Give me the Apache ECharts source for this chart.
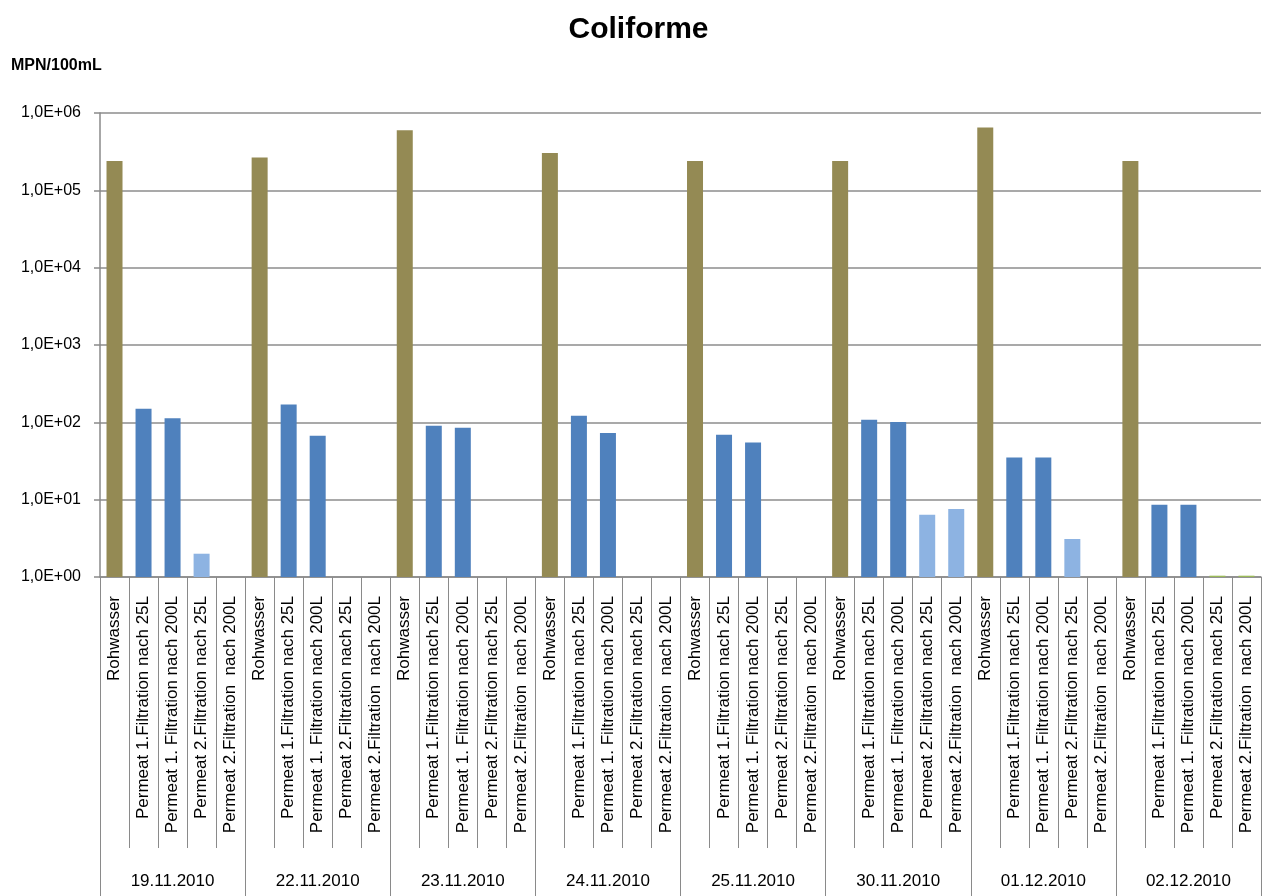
<!DOCTYPE html>
<html>
<head>
<meta charset="utf-8">
<title>Coliforme</title>
<script src="https://cdn.jsdelivr.net/npm/echarts@6/dist/echarts.min.js"></script>
<style>
  html, body { margin: 0; padding: 0; background: #ffffff; }
  #chart { width: 1277px; height: 896px; }
</style>
</head>
<body>
<div id="chart"></div>
<script>
// Sampling dates and the five sampling points measured on each date
const dates = ['19.11.2010', '22.11.2010', '23.11.2010', '24.11.2010',
               '25.11.2010', '30.11.2010', '01.12.2010', '02.12.2010'];
const samplePoints = ['Rohwasser',
                      'Permeat 1.Filtration nach 25L',
                      'Permeat 1. Filtration nach 200L',
                      'Permeat 2.Filtration nach 25L',
                      'Permeat 2.Filtration  nach 200L'];

// Coliforme, MPN/100mL (null = no bar)
const rohwasser      = [240000, 265000, 600000, 305000, 240000, 240000, 650000, 240000];
const permeat1_25L   = [150, 170, 90, 122, 69, 108, 35, 8.6];
const permeat1_200L  = [113, 67, 85, 73, 55, 101, 35, 8.6];
const permeat2_25L   = [2.0, null, null, null, null, 6.4, 3.1, 1.04];
const permeat2_200L  = [null, null, null, null, null, 7.6, null, 1.04];

// Y axis tick values (decades)
const yTicks = [1, 10, 100, 1000, 10000, 100000, 1000000];

const COLOR_RAW = '#948A54';
const COLOR_P1 = '#4F81BD';
const COLOR_P2 = '#8DB3E2';
const COLOR_P2_LOW = '#9BBB59';
const FONT = '"Liberation Sans", Arial, sans-serif';

const seriesByPoint = [rohwasser, permeat1_25L, permeat1_200L, permeat2_25L, permeat2_200L];
const pointColors = [COLOR_RAW, COLOR_P1, COLOR_P1, COLOR_P2, COLOR_P2];

const categories = [];
const barData = [];
dates.forEach((d, i) => {
  samplePoints.forEach((p, j) => {
    categories.push(p);
    const v = seriesByPoint[j][i];
    let color = pointColors[j];
    if (j >= 3 && v !== null && v < 1.1) color = COLOR_P2_LOW;
    barData.push(v === null ? '-' : { value: v, itemStyle: { color: color } });
  });
});

function expLabel(v) {
  const e = Math.round(Math.log10(v));
  return '1,0E+' + String(e).padStart(2, '0');
}

const chart = echarts.init(document.getElementById('chart'), null, { renderer: 'canvas' });
chart.setOption({
  animation: false,
  backgroundColor: '#ffffff',
  textStyle: { fontFamily: FONT },
  title: [
    {
      text: 'Coliforme',
      left: 'center',
      top: 10,
      textStyle: { fontFamily: FONT, fontSize: 30, fontWeight: 'bold', color: '#000' }
    },
    {
      text: 'MPN/100mL',
      left: 6,
      top: 53,
      textStyle: { fontFamily: FONT, fontSize: 16, fontWeight: 'bold', color: '#000' }
    }
  ],
  grid: { left: 100, right: 16, top: 113, bottom: 319, containLabel: false },
  xAxis: [
    {
      type: 'category',
      position: 'bottom',
      data: categories,
      axisLine: { show: true, onZero: false, lineStyle: { color: '#8a8a8a', width: 1.5 } },
      axisTick: { show: true, interval: 0, length: 271, lineStyle: { color: '#8a8a8a', width: 1 } },
      axisLabel: {
        interval: 0, rotate: 90, margin: 19,
        fontFamily: FONT, fontSize: 17, color: '#000'
      }
    },
    {
      type: 'category',
      position: 'bottom',
      data: dates,
      axisLine: { show: false, onZero: false },
      axisTick: { show: true, interval: 0, length: 319, lineStyle: { color: '#8a8a8a', width: 1 } },
      axisLabel: { interval: 0, margin: 296, fontFamily: FONT, fontSize: 17, color: '#000' }
    }
  ],
  yAxis: {
    type: 'log',
    logBase: 10,
    min: yTicks[0],
    max: yTicks[yTicks.length - 1],
    axisLine: { show: true, lineStyle: { color: '#8a8a8a', width: 1.5 } },
    axisTick: { show: true, length: 6, lineStyle: { color: '#8a8a8a', width: 1.5 } },
    splitLine: { show: true, lineStyle: { color: '#8c8c8c', width: 1.5 } },
    axisLabel: {
      margin: 19, fontFamily: FONT, fontSize: 16, color: '#000',
      formatter: expLabel
    }
  },
  series: [
    {
      type: 'bar',
      xAxisIndex: 0,
      yAxisIndex: 0,
      barWidth: 16,
      data: barData
    }
  ]
});
</script>
</body>
</html>
